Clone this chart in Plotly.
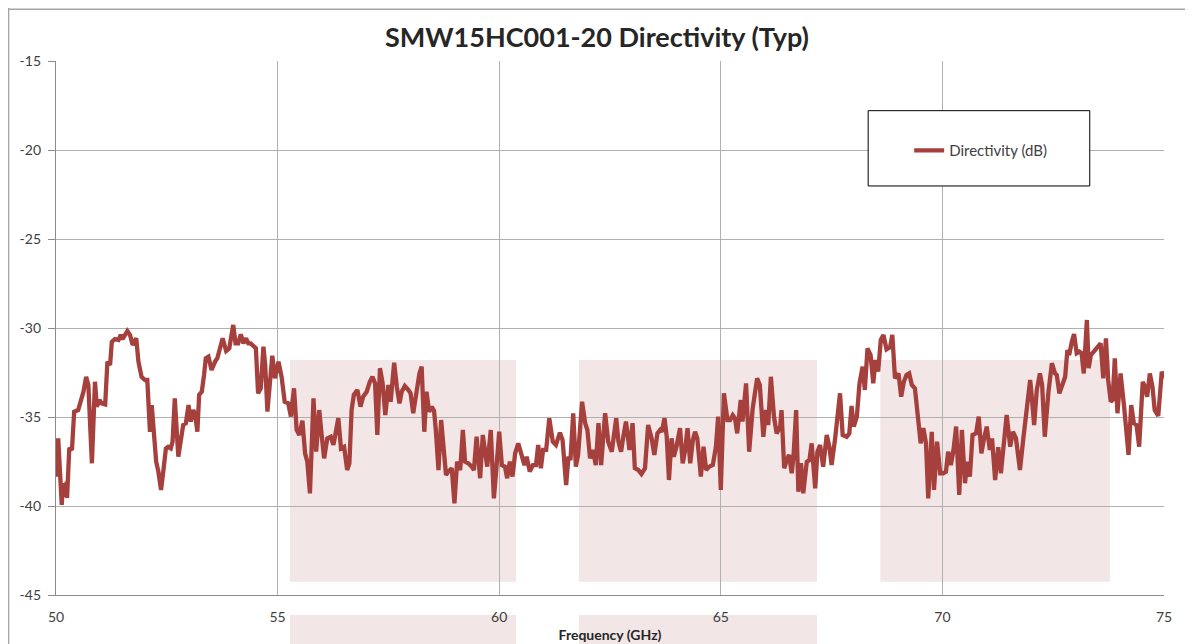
import plotly.graph_objects as go

# Frequency (GHz)
freq = [50.00, 50.05, 50.13, 50.16, 50.21, 50.24, 50.25, 50.30, 50.36, 50.41, 50.50, 50.56, 50.62, 50.68, 50.73, 50.81, 50.88, 50.92, 50.98, 51.03,
        51.11, 51.16, 51.22, 51.26, 51.33, 51.41, 51.46, 51.50, 51.56, 51.61, 51.67, 51.73, 51.81, 51.86, 51.93, 52.01, 52.06, 52.12, 52.16, 52.20,
        52.26, 52.31, 52.37, 52.42, 52.48, 52.53, 52.59, 52.63, 52.68, 52.76, 52.84, 52.87, 52.93, 52.99, 53.04, 53.10, 53.14, 53.19, 53.23, 53.29,
        53.34, 53.38, 53.44, 53.51, 53.59, 53.64, 53.70, 53.76, 53.84, 53.91, 53.96, 54.00, 54.05, 54.11, 54.17, 54.23, 54.29, 54.34, 54.39, 54.45,
        54.51, 54.56, 54.62, 54.68, 54.72, 54.77, 54.83, 54.88, 54.94, 55.02,
        55.09, 55.16, 55.24, 55.30, 55.37, 55.43, 55.49, 55.56, 55.62, 55.67, 55.73, 55.81, 55.87, 55.94, 55.99, 56.05, 56.12, 56.20, 56.26, 56.32,
        56.37, 56.43, 56.50, 56.57, 56.62, 56.67, 56.72, 56.80, 56.87, 56.93, 57.01, 57.08, 57.14, 57.20, 57.25, 57.31, 57.37, 57.43, 57.50, 57.55,
        57.63, 57.69, 57.75, 57.80, 57.87, 57.95, 58.00, 58.06, 58.14, 58.20, 58.25, 58.31, 58.36, 58.42, 58.48, 58.53, 58.57, 58.63, 58.69, 58.74,
        58.80, 58.85, 58.93, 58.99, 59.05, 59.12, 59.18, 59.23, 59.30, 59.38, 59.43, 59.49, 59.57, 59.63, 59.68, 59.73, 59.81, 59.88, 59.94, 60.00,
        60.06, 60.13, 60.18, 60.24, 60.30, 60.36, 60.43, 60.51, 60.57, 60.62, 60.69, 60.76, 60.83, 60.88, 60.94, 60.99, 61.06, 61.13, 61.21, 61.28,
        61.37, 61.43, 61.51, 61.56, 61.61, 61.67, 61.73, 61.78, 61.87, 61.94, 61.99, 62.05, 62.11, 62.18, 62.24, 62.30, 62.35, 62.39, 62.46, 62.54,
        62.59, 62.64, 62.69, 62.75, 62.80, 62.86, 62.94, 63.01, 63.06, 63.14, 63.21, 63.29, 63.36, 63.44, 63.50, 63.57, 63.63, 63.67, 63.73, 63.78,
        63.83, 63.89, 63.94, 64.00, 64.08, 64.14, 64.19, 64.25, 64.31, 64.37, 64.42, 64.47, 64.55, 64.61, 64.67, 64.74, 64.82,
        64.89, 64.94, 65.00, 65.07, 65.15, 65.21, 65.27, 65.32, 65.37, 65.45, 65.49, 65.57, 65.64, 65.72, 65.82, 65.88, 65.96, 66.02, 66.07, 66.13,
        66.20, 66.26, 66.34, 66.37, 66.43, 66.49, 66.54, 66.60, 66.64, 66.70, 66.75, 66.81, 66.86, 66.94, 67.00, 67.05, 67.13, 67.18, 67.24, 67.31,
        67.39, 67.45, 67.50, 67.58, 67.64, 67.69, 67.75, 67.84, 67.90, 67.95, 68.00, 68.07, 68.13, 68.20, 68.25, 68.31, 68.38, 68.44, 68.49, 68.55,
        68.61, 68.67, 68.74, 68.82, 68.87, 68.93, 69.01, 69.07, 69.13, 69.19, 69.25, 69.31, 69.38, 69.43, 69.51, 69.57, 69.63, 69.68, 69.76, 69.81,
        69.88,
        69.95, 70.02, 70.08, 70.13, 70.19, 70.25, 70.31, 70.38, 70.44, 70.51, 70.56, 70.62, 70.68, 70.76, 70.82, 70.88, 70.94, 71.00, 71.07, 71.12,
        71.19, 71.26, 71.32, 71.39, 71.45, 71.53, 71.59, 71.66, 71.75, 71.83, 71.90, 71.98, 72.01, 72.07, 72.13, 72.20, 72.25, 72.31, 72.39, 72.47,
        72.54, 72.58, 72.64, 72.71, 72.77, 72.82, 72.86, 72.92, 72.97, 73.03, 73.09, 73.14, 73.19, 73.26, 73.30, 73.35, 73.42, 73.49, 73.57, 73.63,
        73.69, 73.74, 73.80, 73.84, 73.89, 73.95, 74.02, 74.10, 74.20, 74.26, 74.32, 74.38, 74.44, 74.52, 74.57, 74.62, 74.68, 74.74, 74.79, 74.87,
        74.95, 75.00]

# Directivity (dB)
directivity = [-38.35, -36.20, -39.94, -38.71, -39.48, -38.63, -39.55, -36.74, -36.85, -34.70, -34.61, -34.05, -33.58, -32.74, -33.20, -37.60, -33.02, -34.42, -34.05, -34.23,
               -34.29, -31.89, -32.08, -30.77, -30.62, -30.67, -30.39, -30.62, -30.30, -30.17, -30.39, -30.95, -30.58, -31.89, -32.74, -32.92, -32.92, -35.83, -34.33, -35.92,
               -37.51, -38.07, -39.10, -38.07, -36.76, -36.67, -36.76, -36.39, -33.95, -37.23, -36.01, -35.45, -35.35, -34.33, -35.26, -34.61, -34.89, -35.83, -33.76, -33.58,
               -32.64, -31.70, -31.61, -32.36, -31.89, -31.70, -31.14, -30.58, -31.29, -31.14, -30.39, -29.83, -30.86, -30.86, -30.35, -30.86, -30.58, -30.86, -30.86, -30.99,
               -31.14, -33.67, -33.39, -31.05, -32.08, -34.70, -33.02, -31.56, -32.83, -31.89,
               -32.74, -34.14, -34.23, -34.98, -33.39, -35.73, -36.01, -35.21, -37.04, -37.51, -39.29, -33.95, -36.95, -34.61, -35.92, -37.32, -36.20, -36.11, -36.57, -35.73,
               -35.07, -36.76, -36.67, -37.98, -37.60, -34.61, -33.76, -33.48, -34.42, -33.86, -33.58, -33.02, -32.74, -33.11, -36.01, -32.26, -33.11, -34.89, -33.20, -34.14,
               -31.95, -33.30, -34.23, -33.58, -33.26, -33.48, -33.67, -34.79, -33.39, -32.55, -32.17, -35.83, -33.58, -34.70, -34.42, -34.65, -35.73, -37.98, -35.17, -36.48,
               -38.26, -38.07, -37.88, -39.85, -37.51, -37.98, -35.73, -37.51, -37.60, -37.79, -37.98, -36.11, -38.44, -36.01, -36.85, -37.79, -35.73, -39.57, -37.79, -35.83,
               -37.70, -37.79, -38.44, -37.51, -38.35, -37.04, -36.48, -37.23, -37.70, -37.23, -38.07, -37.70, -37.70, -36.57, -37.88, -36.85, -36.85, -35.07, -36.39, -36.57,
               -35.88, -36.29, -38.82, -37.32, -37.32, -34.79, -37.79, -37.13, -34.14, -35.35, -35.73, -37.32, -36.85, -37.70, -35.35, -37.70, -35.73, -34.79, -36.39, -36.95,
               -36.01, -35.07, -36.39, -36.95, -36.11, -35.26, -36.85, -35.35, -37.88, -37.98, -38.20, -37.88, -35.45, -36.20, -37.13, -35.92, -35.73, -35.83, -35.07, -36.11,
               -38.54, -36.20, -37.23, -36.67, -35.63, -37.60, -36.95, -35.63, -37.60, -36.29, -35.83, -36.20, -38.35, -36.67, -37.98, -37.79, -37.70,
               -36.67, -34.98, -39.10, -33.67, -35.17, -35.17, -34.89, -35.07, -35.92, -34.05, -35.26, -33.11, -36.95, -34.51, -32.83, -33.20, -36.11, -34.61, -35.45, -32.74,
               -34.98, -35.92, -35.54, -34.61, -37.88, -37.42, -37.13, -38.16, -37.23, -34.61, -39.20, -37.60, -39.29, -37.51, -37.42, -36.48, -39.01, -36.95, -36.57, -37.79,
               -36.01, -36.67, -37.70, -36.20, -34.70, -33.67, -36.01, -36.11, -35.92, -34.38, -35.54, -34.98, -33.11, -32.17, -33.48, -31.14, -31.52, -33.11, -31.80, -32.45,
               -30.67, -30.39, -31.20, -31.08, -30.39, -32.83, -32.55, -33.86, -33.02, -32.64, -32.55, -33.20, -33.39, -34.79, -36.48, -35.63, -36.48, -39.57, -35.83, -39.10,
               -36.39,
               -38.16, -38.16, -38.07, -36.95, -37.70, -36.85, -35.54, -39.38, -35.73, -38.72, -37.51, -38.35, -36.01, -35.92, -34.98, -37.04, -36.20, -35.54, -36.85, -36.20,
               -38.54, -36.70, -38.16, -36.67, -34.89, -36.67, -35.83, -36.20, -37.98, -36.11, -34.42, -32.92, -33.67, -35.45, -33.48, -32.55, -33.20, -36.11, -33.67, -31.98,
               -32.55, -32.64, -33.67, -33.20, -32.74, -31.24, -31.52, -30.77, -30.34, -31.42, -31.33, -31.42, -32.55, -29.55, -32.26, -31.52, -31.33, -31.05, -30.86, -32.83,
               -30.58, -32.92, -34.14, -34.05, -31.70, -34.79, -32.55, -34.42, -37.13, -34.33, -35.35, -35.45, -36.67, -33.02, -33.30, -33.86, -32.55, -33.30, -34.61, -34.94,
               -32.45, -32.83]

x_ticks = [50, 55, 60, 65, 70, 75]
y_ticks = [-45, -40, -35, -30, -25, -20, -15]

# background watermark blocks (GHz start, GHz end), dB top/bottom
band_starts = [55.28, 61.80, 68.60]
band_ends = [60.38, 67.17, 73.78]
band_top = -31.8
band_bottom = -44.25

LINE = "#A5403D"
PINK = "#F3E6E6"
GRID = "#B0B0B0"
FONT = "Lato"

fig = go.Figure()
fig.add_trace(go.Scatter(x=freq, y=directivity, mode="lines", name="Directivity (dB)",
                         line=dict(color=LINE, width=4.3)))

shapes = []
for s, e in zip(band_starts, band_ends):
    shapes.append(dict(type="rect", xref="x", yref="y", x0=s, x1=e, y0=band_bottom, y1=band_top,
                       fillcolor=PINK, line=dict(width=0), layer="below"))
# watermark pieces below the axis
for s, e in zip(band_starts[:2], band_ends[:2]):
    shapes.append(dict(type="rect", xref="paper", yref="paper",
                       x0=(s - 50) / 25, x1=(e - 50) / 25, y0=-0.095, y1=-0.0375,
                       fillcolor=PINK, line=dict(width=0), layer="below"))
# legend box
shapes.append(dict(type="rect", xref="paper", yref="paper", x0=0.733, x1=0.933, y0=0.766, y1=0.907,
                   fillcolor="white", line=dict(color="black", width=1), layer="above"))
# chart outer border (left and top)
shapes.append(dict(type="line", xref="paper", yref="paper", x0=-0.0428, x1=-0.0428, y0=-0.2, y1=1.2,
                   line=dict(color="#A6A6A6", width=1.5)))
shapes.append(dict(type="line", xref="paper", yref="paper", x0=-0.0428, x1=1.1, y0=1.097, y1=1.097,
                   line=dict(color="#A6A6A6", width=1.5)))

W, H = 1185, 636
fig.update_layout(
    width=W, height=H,
    margin=dict(l=48, r=29, t=53, b=49, autoexpand=False),
    paper_bgcolor="white", plot_bgcolor="white",
    font=dict(family=FONT, size=14, color="#404040"),
    title=dict(text="<b>SMW15HC001-20 Directivity (Typ)</b>", x=0.497, xanchor="center",
               y=1 - 30 / H, yanchor="middle", font=dict(family=FONT, size=27, color="#262626")),
    showlegend=True,
    legend=dict(x=0.770, y=0.832, xanchor="left", yanchor="middle", bgcolor="rgba(0,0,0,0)",
                borderwidth=0, font=dict(family=FONT, size=15, color="#404040")),
    shapes=shapes,
)
fig.update_xaxes(range=[50, 75], tickvals=x_ticks, ticktext=[str(v) for v in x_ticks],
                 showgrid=True, gridcolor=GRID, gridwidth=1.3, zeroline=False, automargin=False,
                 showline=True, linecolor="#8C8C8C", linewidth=1.3, ticks="", ticklabelstandoff=9,
                 title=dict(text="<b>Frequency (GHz)</b>", standoff=6, font=dict(family=FONT, size=14, color="#262626")),
                 mirror=False)
fig.update_yaxes(range=[-45, -15], tickvals=y_ticks, ticktext=[str(v) for v in y_ticks],
                 showgrid=True, gridcolor=GRID, gridwidth=1.3, zeroline=False, automargin=False,
                 showline=True, linecolor="#8C8C8C", linewidth=1.3, ticks="outside", ticklen=7,
                 tickcolor="#8C8C8C", ticklabelstandoff=4)

fig.write_html("out.html")
